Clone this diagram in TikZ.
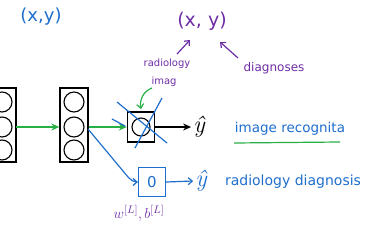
\documentclass[tikz,border=0pt]{standalone}
\usepackage{fontspec}
\setsansfont{DejaVu Sans}
\usetikzlibrary{arrows.meta}
\definecolor{pblue}{RGB}{30,110,205}
\definecolor{ppurple}{RGB}{110,45,165}
\definecolor{pgreen}{RGB}{40,175,70}
\newcommand{\hf}[1]{\sffamily\fontsize{#1}{#1}\selectfont}
\begin{document}
\begin{tikzpicture}[x=1pt,y=-1pt,
  layerbox/.style={draw,line width=1.4pt,minimum width=28pt,minimum height=74pt,inner sep=0},
  unit/.style={draw,line width=1.1pt,circle,minimum size=20pt,inner sep=0},
  stroke/.style={line width=1.2pt},
  yhat/.style={font=\itshape\fontsize{24}{24}\selectfont,inner sep=0pt},
  tipb/.style={-{Stealth[length=8pt,width=7pt]}},
  tipl/.style={-{Straight Barb[length=4pt,width=7pt]}}]
\useasboundingbox (0,0) rectangle (379,243);
\clip (0,0) rectangle (379,243);
% layers
\node[layerbox] (L1) at (2,125) {};
\node[unit] (a1) at (2,102) {};
\node[unit] (a2) at (2,127) {};
\node[unit] (a3) at (2,150) {};
\node[layerbox] (L2) at (74,125) {};
\node[unit] (b1) at (74,102) {};
\node[unit] (b2) at (74,127) {};
\node[unit] (b3) at (74,150) {};
% first output
\node[draw,line width=1.4pt,minimum width=27pt,minimum height=30pt,inner sep=0] (O1) at (141,127) {};
\node[unit,minimum size=18pt] (o1) at (141,127) {};
\node[yhat] (yh1) at (199,127) {ŷ};
\draw[pgreen,stroke,tipb] (16,127) -- (L2.west |- 0,127);
\draw[pgreen,stroke,tipb] (L2.east |- 0,127) -- (O1.west |- 0,127);
\draw[stroke,tipb] (O1.east) -- ([xshift=-2pt]yh1.west);
% crossing
\draw[pblue,stroke] (117,102) -- (167,143);
\draw[pblue,stroke] (162,98) -- (135,148);
\draw[pblue,stroke] (112,119) -- (125,126);
% second output
\node[draw=pblue,line width=1.2pt,minimum width=27pt,minimum height=29pt,inner sep=0] (O2) at (152,182) {};
\node[pblue,font=\hf{15}] (o2) at (152,182) {0};
\node[pblue,yhat] (yh2) at (201,181) {ŷ};
\coordinate (s2) at (88,129);
\coordinate (k2) at (128,177);
\draw[pblue,stroke] (s2) -- (k2);
\draw[pblue,stroke,tipl] (k2) to[out=-45,in=180] (O2.west);
\draw[pblue,stroke,tipl] (O2.east) -- ([xshift=-2pt]yh2.west);
\node[ppurple,font=\fontsize{15}{15}\selectfont] (wb) at (139,213) {$w^{[L]}, b^{[L]}$};
% texts
\node[pblue,font=\hf{18}] (xy1) at (41,17) {(x,y)};
\node[ppurple,font=\hf{19}] (xy2) at (202,21) {(x, y)};
\node[ppurple,font=\hf{10}] (rad) at (167,64) {radiology};
\node[ppurple,font=\hf{10}] (img) at (164,82) {imag};
\node[ppurple,font=\hf{12}] (diag) at (274,68) {diagnoses};
\coordinate (r0) at (177,54);
\coordinate (r1) at (190,40);
\coordinate (d0) at (238,58);
\coordinate (d1) at (220,42);
\draw[ppurple,stroke,tipl] (r0) -- (r1);
\draw[ppurple,stroke,tipl] (d0) -- (d1);
\coordinate (g0) at (152,88);
\coordinate (g1) at (141,109);
\draw[pgreen,stroke,tipl] (g0) to[out=200,in=100] (g1);
\node[pblue,font=\hf{13.5}] (irec) at (290,129) {image recognita};
\coordinate (u0) at (234,143);
\coordinate (u1) at (340,142);
\draw[pgreen,stroke] (u0) -- (u1);
\node[pblue,font=\hf{14}] (rdiag) at (293,182) {radiology diagnosis};
\end{tikzpicture}
\end{document}
